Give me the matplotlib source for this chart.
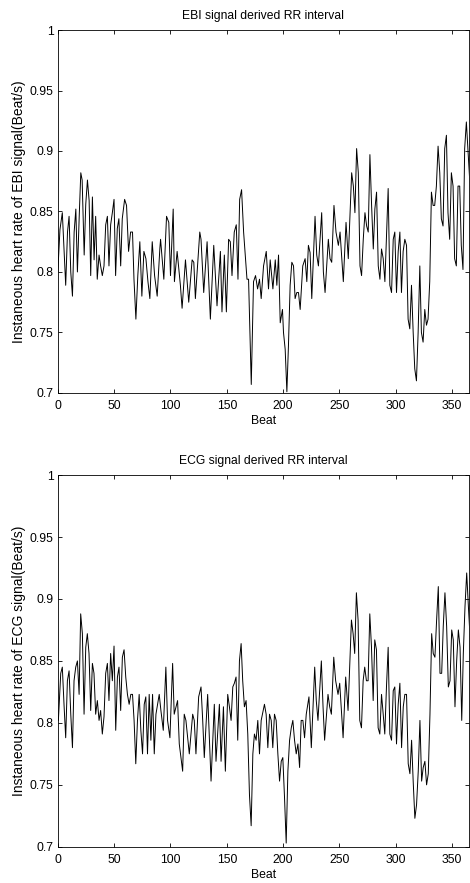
import matplotlib
matplotlib.use("Agg")
import matplotlib.pyplot as plt
from matplotlib.ticker import FuncFormatter

plt.rcParams['font.family'] = ['Liberation Sans', 'DejaVu Sans']

# EBI signal derived heart rate (beat, value)
ebi_beat = [0, 1.9, 4, 5.6, 7, 8.6, 10, 11.5, 13, 14.5, 16, 17.4, 19, 20.4, 21.6, 23.4, 24.8, 26.3,
            27.8, 29.2, 30.7, 32.2, 33.6, 35, 36.6, 38, 39.5, 41, 42.5, 44, 45.4, 46.9, 48.4, 49.9,
            51.3, 52.8, 54.2, 55.8, 57.2, 59.3, 61, 62.8, 64.6, 66.3, 67.6, 69.3, 71, 72.8, 74.6,
            76.4, 78.2, 80, 81.7, 83.8, 85.9, 88.2, 90.6, 91.2, 94.1, 96.5, 98.5, 100, 102.4, 103.5,
            105.9, 108.8, 110.3, 113.3, 116.2, 119.2, 120.7, 122.1, 126, 127.1, 129.5, 132.5, 135.4,
            138.4, 141.3, 144.3, 145.7, 147.8, 149.6, 151.6, 153.1, 154.6, 156.6, 158.4, 159.9,
            161.4, 163.1, 164.9, 167.9, 169.3, 170.8, 171.7, 173.7, 175.5, 177.3, 179, 180.5, 182.6,
            185, 187, 188.5, 190.9, 193, 194.4, 195.9, 197.4, 199.4, 200.3, 201.8, 203.3, 204.7,
            206.2, 207.7, 209.2, 210.6, 212.1, 213.6, 215.1, 217.4, 219.5, 221, 222.4, 223.9, 225.4,
            228.3, 229.8, 231.3, 234.2, 235.7, 237.2, 240.1, 241.6, 243.1, 245.1, 246.9, 249, 250.5,
            253.4, 255.8, 257.8, 260.8, 262.3, 263.7, 265.2, 266.7, 268.2, 269.6, 271.1, 272.6,
            274.1, 275.5, 277, 278.5, 280, 281.4, 282.9, 284.4, 285.9, 287.3, 288.8, 290.3, 291.8,
            293.2, 294.7, 296.2, 297.7, 299.1, 300.6, 302.1, 303.6, 305, 306.5, 308, 309.5, 310.9,
            312.4, 313.9, 315.4, 316.8, 318.3, 319.8, 321.3, 322.7, 324.2, 325.7, 327.2, 328.6,
            330.1, 331.6, 333.1, 334.5, 336, 337.5, 339, 340.4, 341.9, 343.4, 344.9, 346.3, 347.8,
            349.3, 350.8, 352.2, 353.7, 355.2, 356.7, 358.1, 359.6, 361.1, 362.6, 364, 365.5]
ebi_rate = [0.800, 0.835, 0.849, 0.817, 0.789, 0.833, 0.846, 0.800, 0.780, 0.833, 0.852, 0.800, 0.846,
            0.882, 0.876, 0.814, 0.856, 0.876, 0.859, 0.797, 0.862, 0.810, 0.846, 0.794, 0.814,
            0.805, 0.797, 0.805, 0.839, 0.846, 0.805, 0.839, 0.849, 0.860, 0.797, 0.836, 0.844,
            0.805, 0.844, 0.860, 0.855, 0.817, 0.833, 0.833, 0.794, 0.761, 0.797, 0.825, 0.780,
            0.817, 0.811, 0.792, 0.778, 0.825, 0.797, 0.780, 0.820, 0.827, 0.794, 0.846, 0.841,
            0.797, 0.852, 0.792, 0.817, 0.789, 0.770, 0.810, 0.775, 0.810, 0.808, 0.778, 0.833,
            0.827, 0.783, 0.825, 0.761, 0.822, 0.772, 0.817, 0.767, 0.814, 0.767, 0.827, 0.825,
            0.797, 0.833, 0.839, 0.794, 0.860, 0.868, 0.833, 0.794, 0.794, 0.739, 0.707, 0.792,
            0.797, 0.786, 0.794, 0.778, 0.805, 0.817, 0.786, 0.810, 0.786, 0.810, 0.789, 0.814,
            0.758, 0.769, 0.750, 0.736, 0.701, 0.739, 0.789, 0.808, 0.805, 0.778, 0.783, 0.783,
            0.769, 0.805, 0.811, 0.792, 0.822, 0.816, 0.778, 0.846, 0.814, 0.805, 0.849, 0.800,
            0.783, 0.827, 0.811, 0.808, 0.855, 0.833, 0.822, 0.833, 0.792, 0.841, 0.811, 0.882,
            0.871, 0.849, 0.902, 0.882, 0.805, 0.797, 0.827, 0.849, 0.838, 0.833, 0.897, 0.855,
            0.819, 0.852, 0.866, 0.805, 0.794, 0.819, 0.811, 0.792, 0.833, 0.869, 0.789, 0.783,
            0.827, 0.833, 0.783, 0.817, 0.833, 0.783, 0.817, 0.827, 0.822, 0.761, 0.753, 0.789,
            0.750, 0.720, 0.710, 0.750, 0.805, 0.750, 0.742, 0.769, 0.756, 0.761, 0.792, 0.866,
            0.855, 0.855, 0.871, 0.904, 0.882, 0.844, 0.838, 0.902, 0.913, 0.849, 0.827, 0.882,
            0.871, 0.811, 0.805, 0.871, 0.871, 0.822, 0.802, 0.902, 0.924, 0.902, 0.877]

# ECG signal derived heart rate (beat, value)
ecg_beat = [0.5, 2.6, 4, 5.5, 7, 8.5, 10, 11.5, 13, 14.4, 15.9, 17.4, 18.9, 20.3, 21.8, 23.3, 24.8,
            26.2, 27.7, 29.2, 30.7, 32.1, 33.6, 35.1, 36.6, 38, 39.5, 41, 42.5, 44, 45.4, 46.9,
            48.4, 49.9, 51.4, 52.9, 54.3, 55.8, 57.3, 58.8, 60.3, 61.8, 63.3, 64.8, 66.3, 67.7,
            69.2, 70.7, 72.2, 73.7, 75.2, 76.7, 78.1, 79.6, 81.1, 82.6, 84.1, 85.6, 87.1, 90,
            91.5, 93.6, 95.9, 97.4, 99.5, 101.9, 103.3, 106.3, 107.8, 110.8, 112.2, 113.7, 116.7,
            119.7, 121.1, 122.6, 125, 127.1, 128.6, 130, 133, 136, 138.9, 140.4, 143.4, 144.9, 147,
            148.7, 150.8, 152.3, 153.8, 155.3, 156.7, 158.2, 159.7, 161.2, 162.7, 164.1, 165.6,
            167.1, 168.6, 170.1, 171.6, 173.1, 174.5, 176, 177.5, 179, 180.5, 183.4, 184.9, 186.4,
            187.9, 189.4, 190.8, 192.3, 193.8, 195.3, 196.8, 198.3, 199.7, 201.2, 202.7, 204.2,
            205.7, 207.2, 208.6, 210.1, 211.6, 213.1, 214.6, 216, 217.5, 219, 220.5, 222.9, 225,
            228, 229.4, 230.9, 233.9, 235.4, 236.8, 239.8, 241.3, 242.8, 244.9, 246.6, 248.7,
            250.2, 253.2, 255.5, 257.6, 260.6, 262.1, 263.5, 265, 266.5, 268, 269.5, 271, 272.4,
            273.9, 275.4, 276.9, 278.4, 279.9, 281.3, 282.8, 284.3, 285.8, 287.3, 288.8, 290.2,
            291.7, 293.2, 294.7, 296.2, 297.7, 299.1, 300.6, 302.1, 303.6, 305.1, 306.6, 308,
            309.5, 311, 312.5, 314, 315.4, 316.9, 318.4, 319.9, 321.4, 322.9, 324.3, 325.8, 327.3,
            328.8, 330.3, 331.8, 333.2, 334.7, 336.2, 337.7, 339.2, 340.7, 342.1, 343.6, 345.1,
            346.6, 348.1, 349.6, 351, 352.5, 354, 355.5, 357, 358.5, 359.9, 361.4, 362.9, 364.4,
            365.9]
ecg_rate = [0.802, 0.840, 0.845, 0.815, 0.788, 0.834, 0.842, 0.807, 0.780, 0.834, 0.845, 0.850, 0.823,
            0.888, 0.872, 0.807, 0.861, 0.872, 0.856, 0.810, 0.848, 0.840, 0.807, 0.818, 0.802,
            0.810, 0.791, 0.805, 0.840, 0.848, 0.818, 0.856, 0.834, 0.862, 0.794, 0.837, 0.845,
            0.810, 0.853, 0.859, 0.837, 0.823, 0.815, 0.823, 0.823, 0.802, 0.767, 0.802, 0.823,
            0.794, 0.775, 0.815, 0.821, 0.775, 0.823, 0.786, 0.823, 0.775, 0.807, 0.823, 0.810,
            0.794, 0.845, 0.802, 0.788, 0.848, 0.807, 0.818, 0.783, 0.761, 0.807, 0.802, 0.775,
            0.807, 0.802, 0.775, 0.821, 0.829, 0.802, 0.772, 0.823, 0.753, 0.815, 0.769, 0.815,
            0.769, 0.813, 0.761, 0.823, 0.813, 0.802, 0.829, 0.832, 0.837, 0.786, 0.850, 0.864,
            0.834, 0.813, 0.818, 0.791, 0.742, 0.717, 0.775, 0.791, 0.786, 0.802, 0.775, 0.802,
            0.815, 0.807, 0.780, 0.807, 0.802, 0.780, 0.807, 0.802, 0.775, 0.753, 0.769, 0.772,
            0.740, 0.703, 0.761, 0.786, 0.796, 0.802, 0.786, 0.775, 0.783, 0.764, 0.802, 0.802,
            0.788, 0.807, 0.821, 0.780, 0.845, 0.818, 0.802, 0.850, 0.813, 0.786, 0.823, 0.813,
            0.807, 0.853, 0.834, 0.823, 0.832, 0.788, 0.837, 0.810, 0.883, 0.872, 0.856, 0.905,
            0.883, 0.802, 0.796, 0.834, 0.845, 0.834, 0.834, 0.888, 0.861, 0.818, 0.867, 0.859,
            0.796, 0.791, 0.823, 0.807, 0.791, 0.829, 0.861, 0.791, 0.786, 0.826, 0.829, 0.783,
            0.815, 0.832, 0.780, 0.813, 0.823, 0.823, 0.767, 0.759, 0.786, 0.753, 0.723, 0.734,
            0.761, 0.802, 0.753, 0.764, 0.769, 0.750, 0.759, 0.807, 0.872, 0.856, 0.853, 0.883,
            0.910, 0.840, 0.840, 0.878, 0.905, 0.878, 0.829, 0.834, 0.875, 0.867, 0.813, 0.850,
            0.875, 0.861, 0.802, 0.856, 0.894, 0.921, 0.894, 0.869]

titles = ["EBI signal derived RR interval", "ECG signal derived RR interval"]
ylabels = ["Instaneous heart rate of EBI signal(Beat/s)",
           "Instaneous heart rate of ECG signal(Beat/s)"]
xticks = [0, 50, 100, 150, 200, 250, 300, 350]
yticks = [0.7, 0.75, 0.8, 0.85, 0.9, 0.95, 1.0]

fig = plt.figure(figsize=(4.70, 8.83), dpi=100)
ax1 = fig.add_axes([0.123, 0.555, 0.875, 0.411])
ax2 = fig.add_axes([0.123, 0.041, 0.875, 0.421])

for ax, x, y, t, yl in [(ax1, ebi_beat, ebi_rate, titles[0], ylabels[0]),
                        (ax2, ecg_beat, ecg_rate, titles[1], ylabels[1])]:
    ax.plot(x, y, color='k', lw=0.7)
    ax.set_xlim(0, 365)
    ax.set_ylim(0.7, 1.0)
    ax.set_xticks(xticks)
    ax.set_yticks(yticks)
    ax.yaxis.set_major_formatter(FuncFormatter(lambda v, p: ('%g' % round(v, 2))))
    ax.tick_params(direction='in', top=True, right=True, labelsize=8.8, length=3, width=0.6)
    ax.tick_params(axis='x', pad=5)
    ax.tick_params(axis='y', pad=3)
    for s in ax.spines.values():
        s.set_linewidth(0.6)
    ax.set_title(t, fontsize=8.7, pad=8)
    ax.set_xlabel("Beat", fontsize=8.8, labelpad=2)
    ax.set_ylabel(yl, fontsize=10, labelpad=3)

fig.savefig("out.png", dpi=100)
